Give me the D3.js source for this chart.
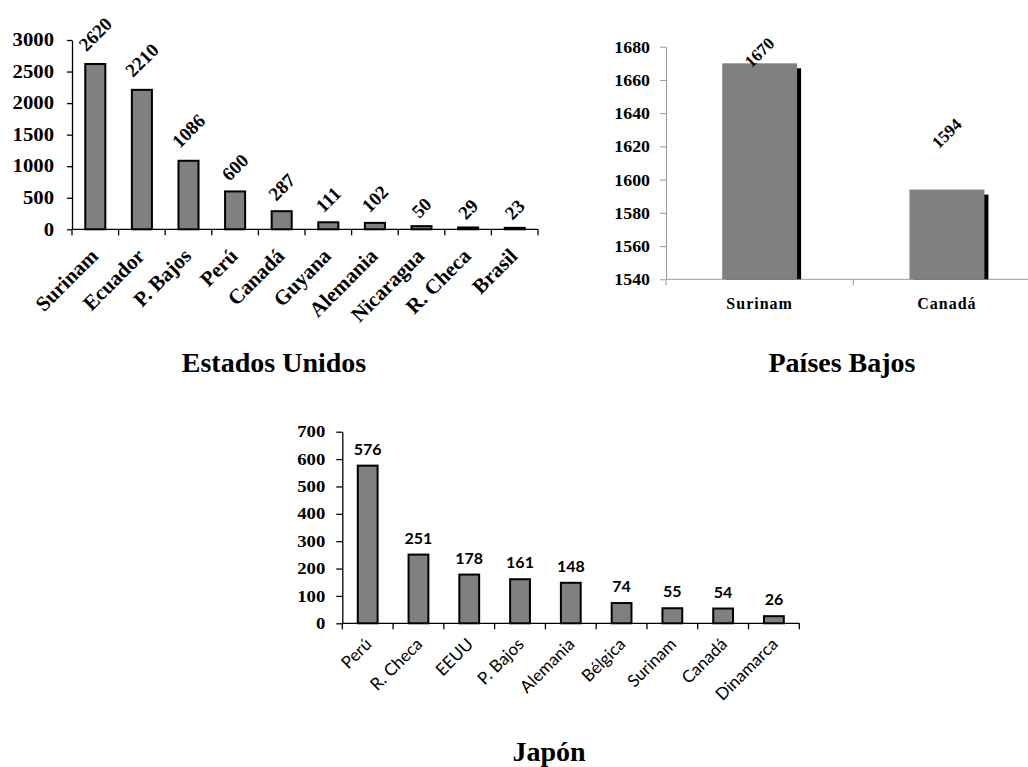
<!DOCTYPE html>
<html><head><meta charset="utf-8">
<script src="https://cdn.jsdelivr.net/npm/d3@7"></script>
<style>
body{margin:0;background:#fff;}
svg{display:block;}
.serif{font-family:"Liberation Serif","Times New Roman",serif;font-weight:bold;}
.sans{font-family:Lato,"Open Sans",sans-serif;}
</style></head>
<body>
<svg id="c" width="1028" height="767"></svg>
<script>
// ---- data ----
const usCats = ["Surinam","Ecuador","P. Bajos","Perú","Canadá","Guyana","Alemania","Nicaragua","R. Checa","Brasil"];
const usVals = [2620,2210,1086,600,287,111,102,50,29,23];
const usTicks = [0,500,1000,1500,2000,2500,3000];

const nlCats = ["Surinam","Canadá"];
const nlVals = [1670,1594];
const nlTicks = [1540,1560,1580,1600,1620,1640,1660,1680];

const jpCats = ["Perú","R. Checa","EEUU","P. Bajos","Alemania","Bélgica","Surinam","Canadá","Dinamarca"];
const jpVals = [576,251,178,161,148,74,55,54,26];
const jpTicks = [0,100,200,300,400,500,600,700];

const titles = ["Estados Unidos","Países Bajos","Japón"];

const svg = d3.select("#c");
const GRAY = "#808080";
const fmt = d3.format("d");

function stretch(sel,k){
  sel.each(function(){
    const L=this.getComputedTextLength();
    this.setAttribute("textLength",L*k);
    this.setAttribute("lengthAdjust","spacingAndGlyphs");
  });
}

// ===== Chart 1: Estados Unidos =====
(function(){
  const g = svg.append("g");
  const x = d3.scaleBand().domain(usCats).range([72,538]);
  const y = d3.scaleLinear().domain([0,3000]).range([229.3,40]);
  const bw = x.bandwidth()*0.43;
  const ya = g.append("g").attr("transform","translate(72,0)")
    .call(d3.axisLeft(y).tickValues(usTicks).tickFormat(fmt).tickSize(5).tickSizeOuter(0).tickPadding(13));
  ya.select(".domain").attr("stroke","#000").attr("stroke-width",1.3);
  ya.selectAll(".tick line").attr("stroke","#000").attr("stroke-width",1.3);
  ya.selectAll("text").attr("class","serif").attr("font-size",18).attr("fill","#000").call(stretch,1.15);
  // x axis
  g.append("line").attr("x1",x.range()[0]).attr("x2",x.range()[1]).attr("y1",y(0)).attr("y2",y(0)).attr("stroke","#000").attr("stroke-width",1.3);
  const bounds = usCats.map(c=>x(c)).concat([x.range()[1]]);
  g.selectAll(".xt").data(bounds).join("line").attr("x1",d=>d).attr("x2",d=>d).attr("y1",y(0)).attr("y2",y(0)+6).attr("stroke","#000").attr("stroke-width",1.3);
  g.selectAll(".bar").data(usVals).join("rect")
    .attr("x",(d,i)=>x(usCats[i])+x.bandwidth()/2-bw/2).attr("width",bw)
    .attr("y",d=>y(d)).attr("height",d=>y(0)-y(d))
    .attr("fill",GRAY).attr("stroke","#000").attr("stroke-width",2);
  g.selectAll(".vl").data(usVals).join("text").attr("class","serif").attr("font-size",19)
    .attr("text-anchor","middle").attr("dominant-baseline","central").text(d=>d)
    .each(function(d,i){
      const L=this.getComputedTextLength();
      const cx=x(usCats[i])+x.bandwidth()/2, cy=y(d)-(L*0.6+7);
      d3.select(this).attr("transform",`translate(${cx},${cy}) rotate(-45)`);
    });
  g.selectAll(".cl").data(usCats).join("text").attr("class","serif").attr("font-size",21)
    .attr("text-anchor","end").text(d=>d)
    .attr("transform",d=>`translate(${x(d)+x.bandwidth()/2+4},${y(0)+28}) rotate(-45)`);
  g.append("text").attr("class","serif").attr("font-size",28).attr("text-anchor","middle")
    .attr("x",274).attr("y",372).text(titles[0]);
})();

// ===== Chart 2: Países Bajos =====
(function(){
  const g = svg.append("g");
  const x = d3.scaleBand().domain(nlCats).range([666,1040.6]);
  const y = d3.scaleLinear().domain([1540,1680]).range([279.3,46.7]);
  const bw = x.bandwidth()*0.4;
  const ya = g.append("g").attr("transform","translate(666,0)")
    .call(d3.axisLeft(y).tickValues(nlTicks).tickFormat(fmt).tickSize(6).tickSizeOuter(0).tickPadding(10));
  ya.select(".domain").attr("stroke","#999").attr("stroke-width",1);
  ya.selectAll(".tick line").attr("stroke","#999");
  ya.selectAll("text").attr("class","serif").attr("font-size",17).attr("fill","#000").call(stretch,1.05);
  g.append("line").attr("x1",x.range()[0]).attr("x2",x.range()[1]).attr("y1",y(1540)).attr("y2",y(1540)).attr("stroke","#999");
  const bounds = nlCats.map(c=>x(c));
  g.selectAll(".xt").data(bounds).join("line").attr("x1",d=>d).attr("x2",d=>d).attr("y1",y(1540)).attr("y2",y(1540)+6).attr("stroke","#999");
  // shadows
  g.selectAll(".sh").data(nlVals).join("rect")
    .attr("x",(d,i)=>x(nlCats[i])+x.bandwidth()/2-bw/2+4).attr("width",bw)
    .attr("y",d=>y(d)+5).attr("height",d=>y(1540)-y(d)-5).attr("fill","#000");
  g.selectAll(".bar").data(nlVals).join("rect")
    .attr("x",(d,i)=>x(nlCats[i])+x.bandwidth()/2-bw/2).attr("width",bw)
    .attr("y",d=>y(d)).attr("height",d=>y(1540)-y(d)).attr("fill",GRAY);
  g.selectAll(".vl").data(nlVals).join("text").attr("class","serif").attr("font-size",17)
    .attr("text-anchor","middle").attr("dominant-baseline","central").text(d=>d)
    .attr("transform",(d,i)=>`translate(${x(nlCats[i])+x.bandwidth()/2},${Math.max(y(d)-56,y(1680)+6)}) rotate(-45)`);
  g.selectAll(".cl").data(nlCats).join("text").attr("class","serif").attr("font-size",16)
    .attr("letter-spacing",1).attr("text-anchor","middle").text(d=>d)
    .attr("x",d=>x(d)+x.bandwidth()/2).attr("y",y(1540)+30);
  g.append("text").attr("class","serif").attr("font-size",28).attr("text-anchor","middle")
    .attr("x",842).attr("y",372).text(titles[1]);
})();

// ===== Chart 3: Japón =====
(function(){
  const g = svg.append("g");
  const x = d3.scaleBand().domain(jpCats).range([342.3,799.3]);
  const y = d3.scaleLinear().domain([0,700]).range([623.3,431.7]);
  const bw = x.bandwidth()*0.39;
  const ya = g.append("g").attr("transform","translate(342.3,0)")
    .call(d3.axisLeft(y).tickValues(jpTicks).tickFormat(fmt).tickSize(6).tickSizeOuter(0).tickPadding(11));
  ya.select(".domain").attr("stroke","#000").attr("stroke-width",1.3);
  ya.selectAll(".tick line").attr("stroke","#000").attr("stroke-width",1.3);
  ya.selectAll("text").attr("class","serif").attr("font-size",16).attr("fill","#000").call(stretch,1.17);
  g.append("line").attr("x1",x.range()[0]).attr("x2",x.range()[1]).attr("y1",y(0)).attr("y2",y(0)).attr("stroke","#000").attr("stroke-width",1.3);
  const bounds = jpCats.map(c=>x(c)).concat([x.range()[1]]);
  g.selectAll(".xt").data(bounds).join("line").attr("x1",d=>d).attr("x2",d=>d).attr("y1",y(0)).attr("y2",y(0)+6).attr("stroke","#000").attr("stroke-width",1.3);
  g.selectAll(".bar").data(jpVals).join("rect")
    .attr("x",(d,i)=>x(jpCats[i])+x.bandwidth()/2-bw/2).attr("width",bw)
    .attr("y",d=>y(d)).attr("height",d=>y(0)-y(d))
    .attr("fill",GRAY).attr("stroke","#000").attr("stroke-width",2);
  g.selectAll(".vl").data(jpVals).join("text").attr("class","sans").attr("font-weight","bold").attr("font-size",16)
    .attr("text-anchor","middle").text(d=>d)
    .attr("x",(d,i)=>x(jpCats[i])+x.bandwidth()/2).attr("y",d=>y(d)-11);
  g.selectAll(".cl").data(jpCats).join("text").attr("class","sans").attr("font-size",17)
    .attr("text-anchor","end").text(d=>d)
    .attr("transform",d=>`translate(${x(d)+x.bandwidth()/2+5},${y(0)+22}) rotate(-45)`);
  g.append("text").attr("class","serif").attr("font-size",28).attr("text-anchor","middle")
    .attr("x",549).attr("y",761).text(titles[2]);
})();
</script>
</body></html>
